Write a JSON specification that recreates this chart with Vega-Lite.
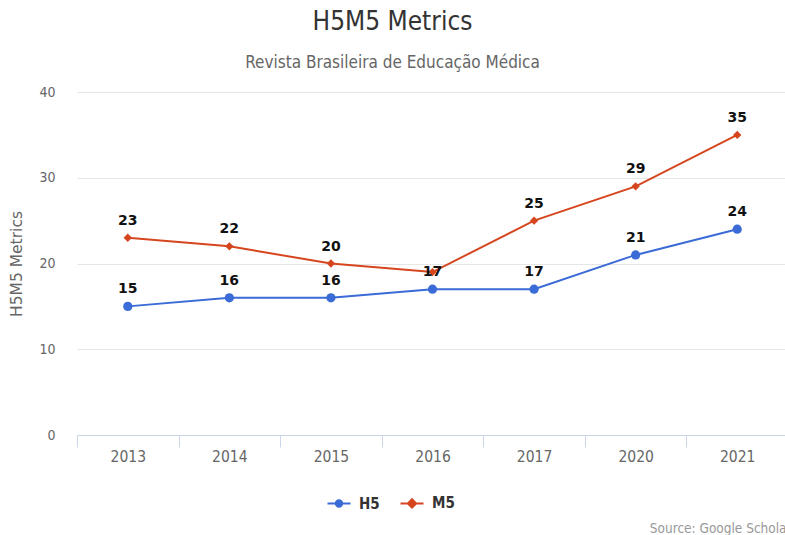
{
  "$schema": "https://vega.github.io/schema/vega-lite/v6.json",
  "autosize": "none",
  "width": 711,
  "height": 343,
  "padding": {"left": 77, "top": 92, "right": 0, "bottom": 100},
  "background": "white",
  "title": {
    "text": "H5M5 Metrics",
    "subtitle": "Revista Brasileira de Educação Médica",
    "anchor": "middle",
    "dx": -40,
    "offset": 14,
    "font": "DejaVu Sans Condensed",
    "fontSize": 26,
    "fontWeight": "normal",
    "color": "#333333",
    "subtitleFont": "DejaVu Sans Condensed",
    "subtitleFontSize": 17,
    "subtitleColor": "#666666",
    "subtitlePadding": 20
  },
  "config": {
    "view": {"stroke": null},
    "axis": {"labelFont": "DejaVu Sans Condensed", "labelColor": "#666666"}
  },
  "data": {
    "values": [
      {"year": "2013", "series": "H5", "value": 15},
      {"year": "2014", "series": "H5", "value": 16},
      {"year": "2015", "series": "H5", "value": 16},
      {"year": "2016", "series": "H5", "value": 17},
      {"year": "2017", "series": "H5", "value": 17},
      {"year": "2020", "series": "H5", "value": 21},
      {"year": "2021", "series": "H5", "value": 24},
      {"year": "2013", "series": "M5", "value": 23},
      {"year": "2014", "series": "M5", "value": 22},
      {"year": "2015", "series": "M5", "value": 20},
      {"year": "2016", "series": "M5", "value": 19},
      {"year": "2017", "series": "M5", "value": 25},
      {"year": "2020", "series": "M5", "value": 29},
      {"year": "2021", "series": "M5", "value": 35}
    ]
  },
  "encoding": {
    "x": {
      "field": "year", "type": "ordinal",
      "scale": {"paddingInner": 0, "paddingOuter": 0},
      "axis": {
        "labelAngle": 0, "labelFontSize": 15.5, "domainColor": "#ccd6eb", "tickColor": "#ccd6eb",
        "tickSize": 12, "tickBand": "extent", "labelPadding": 2,
        "title": "Source: Google Scholar", "titleAnchor": "end", "titleAlign": "right",
        "titleFont": "DejaVu Sans Condensed", "titleFontSize": 13.5, "titleFontWeight": "normal",
        "titleColor": "#999999", "titleX": 714, "titleY": 100, "titleBaseline": "bottom"
      }
    },
    "y": {
      "field": "value", "type": "quantitative",
      "scale": {"domain": [0, 40], "nice": false},
      "axis": {
        "values": [0, 10, 20, 30, 40], "domain": false, "ticks": false,
        "labelFontSize": 14,
        "gridColor": "#e6e6e6", "labelPadding": 22,
        "title": "H5M5 Metrics", "titleFont": "DejaVu Sans", "titleFontSize": 15.5,
        "titleFontWeight": "normal", "titleColor": "#666666", "titlePadding": 14
      }
    }
  },
  "layer": [
    {
      "mark": {"type": "line", "strokeWidth": 2},
      "encoding": {
        "color": {
          "field": "series", "type": "nominal",
          "scale": {"domain": ["H5", "M5"], "range": ["#3a6bd6", "#d6461e"]},
          "legend": {
            "title": null, "orient": "none", "direction": "horizontal",
            "legendX": 249, "legendY": 398,
            "labelFont": "DejaVu Sans Condensed", "labelFontSize": 15, "labelFontWeight": "bold",
            "labelColor": "#333333", "symbolSize": 530, "columnPadding": 16, "labelOffset": 7,
            "encode": {
              "symbols": {
                "update": {
                  "shape": {"signal": "datum.value === 'H5' ? 'M-1,0L1,0M0.28,0A0.28,0.28 0 1 1 -0.28,0A0.28,0.28 0 1 1 0.28,0Z' : 'M-1,0L1,0M0,-0.36L0.36,0L0,0.36L-0.36,0Z'"},
                  "fill": {"signal": "datum.value === 'H5' ? '#3a6bd6' : '#d6461e'"},
                  "stroke": {"signal": "datum.value === 'H5' ? '#3a6bd6' : '#d6461e'"},
                  "fillOpacity": {"value": 1},
                  "strokeOpacity": {"value": 1},
                  "strokeWidth": {"value": 2}
                }
              }
            }
          }
        }
      }
    },
    {
      "transform": [{"filter": "datum.series === 'H5'"}],
      "mark": {"type": "point", "filled": true, "opacity": 1, "shape": "circle", "size": 85, "color": "#3a6bd6"}
    },
    {
      "transform": [{"filter": "datum.series === 'M5'"}],
      "mark": {"type": "point", "filled": true, "opacity": 1, "shape": "diamond", "size": 70, "color": "#d6461e"}
    },
    {
      "transform": [{"filter": "!(datum.series === 'M5' && datum.year === '2016')"}],
      "mark": {"type": "text", "dy": -17, "font": "DejaVu Sans", "fontSize": 14, "fontWeight": "bold", "baseline": "middle"},
      "encoding": {
        "text": {"field": "value", "type": "quantitative"},
        "color": {"value": "#111111"}
      }
    }
  ]
}
